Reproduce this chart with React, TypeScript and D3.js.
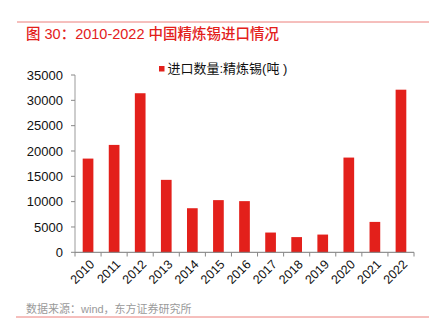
import React from "react";
import * as d3 from "d3";

const years = ["2010","2011","2012","2013","2014","2015","2016","2017","2018","2019","2020","2021","2022"];
const imports = [18500,21200,31400,14300,8700,10300,10100,3900,3000,3500,18700,6000,32100];
const yTicks = [0,5000,10000,15000,20000,25000,30000,35000];
const title = "图 30：2010-2022 中国精炼锡进口情况";
const legendLabel = "进口数量:精炼锡(吨 )";
const sourceText = "数据来源：wind，东方证券研究所";

const W = 429, H = 334;
const FONT = '"Liberation Sans", Arial, "Noto Sans CJK SC", sans-serif';
const RED = "#E3201B";

export default function App() {
  const x = d3.scaleBand<string>().domain(years).range([75, 414]).paddingInner(0.59).paddingOuter(0.295);
  const y = d3.scaleLinear().domain([0, 35000]).range([252.3, 75]);
  const bounds = d3.scaleLinear().domain([0, years.length]).range([75, 414]);
  return (
    <svg width={W} height={H} style={{ position: "absolute", left: 0, top: 0, background: "#fff" }} fontFamily={FONT}>
      <line x1={17} x2={429} y1={22} y2={22} stroke="#EC7F7B" strokeWidth={1} />
      <text x={26} y={38.5} fontSize={14.5} fill={RED} fontWeight={500}>{title}</text>
      {/* y axis */}
      <line x1={75} x2={75} y1={75} y2={252.3} stroke="#BDBDBD" strokeWidth={1.5} />
      {yTicks.map(t => (
        <g key={t}>
          <line x1={71} x2={75} y1={y(t)} y2={y(t)} stroke="#888" />
          <text x={63} y={y(t)} dy="0.36em" textAnchor="end" fontSize={13} fill="#111">{t}</text>
        </g>
      ))}
      {/* bars */}
      {years.map((yr, i) => (
        <rect key={yr} x={x(yr)} y={y(imports[i])} width={x.bandwidth()} height={y(0) - y(imports[i])} fill={RED} />
      ))}
      {/* x axis */}
      <line x1={75} x2={414} y1={252.3} y2={252.3} stroke="#777" strokeWidth={1} />
      {d3.range(years.length + 1).map(i => (
        <line key={i} x1={bounds(i)} x2={bounds(i)} y1={252.3} y2={256.5} stroke="#888" />
      ))}
      {years.map(yr => {
        const cx = (x(yr) as number) + x.bandwidth() / 2 + 4;
        return (
          <text key={yr} transform={`translate(${cx},${262}) rotate(-45)`} textAnchor="end" fontSize={12.5} fill="#111" dy="0.35em">{yr}</text>
        );
      })}
      {/* legend */}
      <rect x={159} y={66} width={5.5} height={5.5} fill={RED} />
      <text x={167.5} y={68.5} dy="0.35em" fontSize={13} fill="#111">{legendLabel}</text>
      {/* source */}
      <text x={26} y={309} dy="0.35em" fontSize={11} fill="#9a9a9a">{sourceText}</text>
      <line x1={16} x2={429} y1={317} y2={317} stroke="#EC7F7B" strokeWidth={1} />
    </svg>
  );
}
